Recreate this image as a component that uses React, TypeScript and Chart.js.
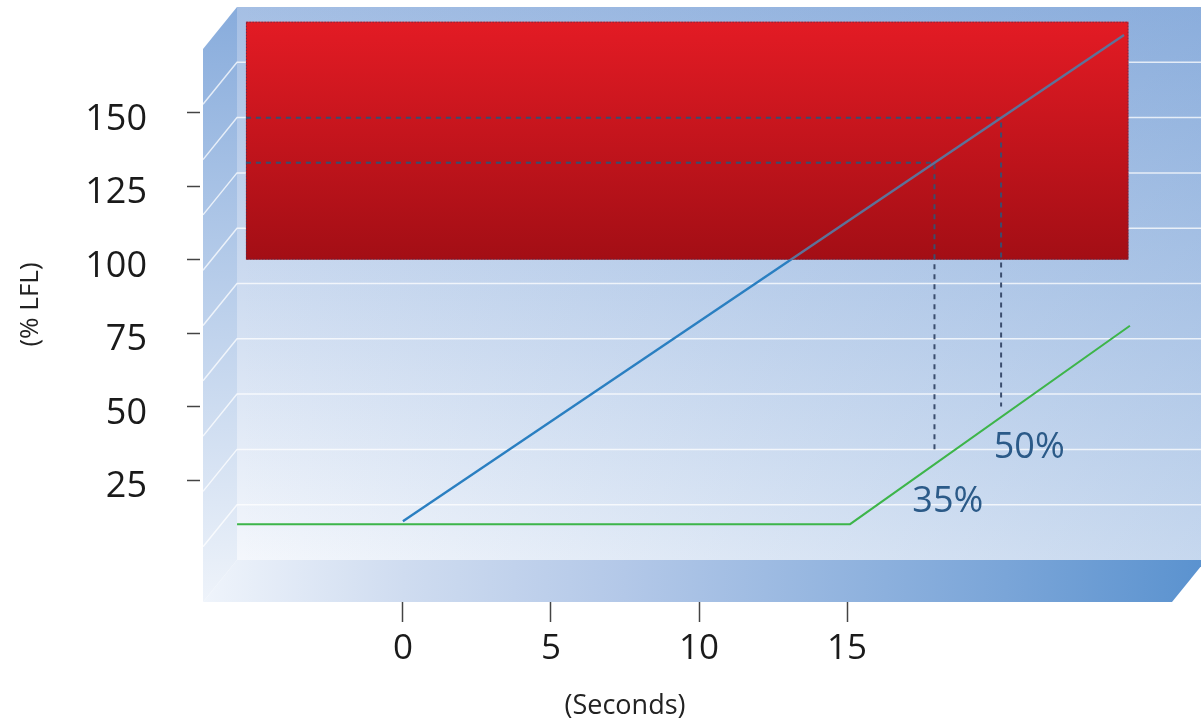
import React, { useEffect, useRef } from "react";
import { Chart, registerables } from "chart.js";

Chart.register(...registerables);

// ---- data ----
const xTickValues = [0, 5, 10, 15];
const yTickValues = [25, 50, 75, 100, 125, 150];

// blue curve: gas concentration
const blueX = [0, 24.35];
const blueY = [11, 176.5];

// green curve
const greenX = [-5.6, 15.1, 24.55];
const greenY = [10, 10, 77.5];

// red danger zone (x range, y range)
const zoneX = [-5.3, 24.5];
const zoneY = [100, 181];

// dashed guide lines
const guide35X = [-5.3, 17.95, 17.95];
const guide35Y = [133, 133, 35];
const guide50X = [-5.3, 20.2, 20.2];
const guide50Y = [148.3, 148.3, 50];

// annotation labels
const noteText = ["35%", "50%"];
const noteX = [18.4, 21.15];
const noteY = [17.5, 35.9];

const xTitle = "(Seconds)";
const yTitle = "(% LFL)";

const FONT = "'Open Sans', 'Noto Sans', sans-serif";

const pts = (xs: number[], ys: number[]) => xs.map((x, i) => ({ x, y: ys[i] }));

const boxPlugin = {
  id: "box3d",
  beforeDatasetsDraw(chart: any) {
    const { ctx, chartArea } = chart;
    const L = chartArea.left, T = chartArea.top, R = chartArea.right + 5, B = chartArea.bottom;
    const dx = 34, dy = 42;
    ctx.save();
    // back wall
    const bwL = L + dx, bwB = B - dy;
    let g = ctx.createLinearGradient(0, T, 0, bwB);
    g.addColorStop(0, "#a5bfe4");
    g.addColorStop(1, "#f4f7fc");
    ctx.fillStyle = g;
    ctx.fillRect(bwL, T, R - bwL, bwB - T);
    g = ctx.createLinearGradient(bwL, 0, R, 0);
    g.addColorStop(0, "rgba(60,121,197,0)");
    g.addColorStop(1, "rgba(60,121,197,0.25)");
    ctx.fillStyle = g;
    ctx.fillRect(bwL, T, R - bwL, bwB - T);
    // left wall
    g = ctx.createLinearGradient(0, T, 0, B);
    g.addColorStop(0, "#88acdc");
    g.addColorStop(1, "#eef3fa");
    ctx.fillStyle = g;
    ctx.beginPath();
    ctx.moveTo(L, T + dy);
    ctx.lineTo(bwL, T);
    ctx.lineTo(bwL, bwB);
    ctx.lineTo(L, B);
    ctx.closePath();
    ctx.fill();
    // grid lines on walls
    ctx.strokeStyle = "rgba(255,255,255,0.75)";
    ctx.lineWidth = 1.5;
    const n = 10;
    for (let k = 1; k < n; k++) {
      const y = T + ((bwB - T) * k) / n;
      ctx.beginPath();
      ctx.moveTo(L, y + dy);
      ctx.lineTo(bwL, y);
      ctx.lineTo(R, y);
      ctx.stroke();
    }
    // floor
    g = ctx.createLinearGradient(L, 0, R, 0);
    g.addColorStop(0, "#eff4fb");
    g.addColorStop(0.2, "#cfdcf0");
    g.addColorStop(0.42, "#b3c8e8");
    g.addColorStop(0.8, "#7aa5d8");
    g.addColorStop(1, "#5a92cf");
    ctx.fillStyle = g;
    ctx.beginPath();
    ctx.moveTo(bwL, bwB);
    ctx.lineTo(R, bwB);
    ctx.lineTo(R - dx, B);
    ctx.lineTo(L, B);
    ctx.closePath();
    ctx.fill();

    // red zone
    const xs = chart.scales.x, ys = chart.scales.y;
    const zx0 = xs.getPixelForValue(zoneX[0]);
    const zx1 = xs.getPixelForValue(zoneX[1]);
    const zy0 = ys.getPixelForValue(zoneY[1]);
    const zy1 = ys.getPixelForValue(zoneY[0]);
    g = ctx.createLinearGradient(0, zy0, 0, zy1);
    g.addColorStop(0, "#e31b24");
    g.addColorStop(1, "#a30e15");
    ctx.fillStyle = g;
    ctx.fillRect(zx0, zy0, zx1 - zx0, zy1 - zy0);
    ctx.strokeStyle = "rgba(80,50,80,0.7)";
    ctx.lineWidth = 1;
    ctx.setLineDash([1.5, 1.5]);
    ctx.strokeRect(zx0 + 0.5, zy0 + 0.5, zx1 - zx0 - 1, zy1 - zy0 - 1);
    ctx.restore();
  },
  afterDatasetsDraw(chart: any) {
    const { ctx } = chart;
    const xs = chart.scales.x, ys = chart.scales.y;
    ctx.save();
    ctx.fillStyle = "#2b5a88";
    ctx.font = `36px ${FONT}`;
    ctx.textAlign = "center";
    ctx.textBaseline = "middle";
    noteText.forEach((t, i) => {
      ctx.fillText(t, xs.getPixelForValue(noteX[i]), ys.getPixelForValue(noteY[i]));
    });
    // x axis title centered under the tick range
    const cx = (xs.getPixelForValue(xTickValues[0]) + xs.getPixelForValue(xTickValues[xTickValues.length - 1])) / 2;
    ctx.fillStyle = "#222";
    ctx.font = `27px ${FONT}`;
    ctx.fillText(xTitle, cx, xs.bottom - 21);
    ctx.restore();
  },
};

export default function App() {
  const ref = useRef<HTMLCanvasElement>(null);
  useEffect(() => {
    document.body.style.margin = "0";
    const blue = "#2a7fc1";
    const blueOnRed = "#5d7299";
    const chart = new Chart(ref.current!, {
      type: "line",
      data: {
        datasets: [
          {
            data: pts(blueX, blueY),
            borderWidth: 2.4,
            pointRadius: 0,
            borderColor: (c: any) => {
              const ch = c.chart;
              const area = ch.chartArea;
              if (!area || !ch.scales.y) return blue;
              const yp = ch.scales.y.getPixelForValue(zoneY[0]);
              const t = Math.min(1, Math.max(0, (yp - area.top) / (area.bottom - area.top)));
              const g = ch.ctx.createLinearGradient(0, area.top, 0, area.bottom);
              g.addColorStop(0, blueOnRed);
              g.addColorStop(t, blueOnRed);
              g.addColorStop(t, blue);
              g.addColorStop(1, blue);
              return g;
            },
          },
          { data: pts(greenX, greenY), borderColor: "#3db54a", borderWidth: 2, pointRadius: 0 },
          { data: pts(guide35X, guide35Y), borderColor: "#3b4d6e", borderWidth: 2, borderDash: [5, 5], pointRadius: 0 },
          { data: pts(guide50X, guide50Y), borderColor: "#3b4d6e", borderWidth: 2, borderDash: [5, 5], pointRadius: 0 },
        ],
      },
      options: {
        responsive: false,
        animation: false,
        layout: { padding: { top: 7, right: 0, left: 0, bottom: 0 } },
        plugins: { legend: { display: false }, tooltip: { enabled: false } },
        scales: {
          x: {
            type: "linear",
            min: -6.75,
            max: 26.95,
            afterBuildTicks: (s: any) => {
              s.ticks = xTickValues.map((v) => ({ value: v }));
            },
            afterFit: (s: any) => {
              s.height = 125;
              s.paddingLeft = 0;
              s.paddingRight = 0;
            },
            border: { display: false },
            grid: { drawOnChartArea: false, drawTicks: true, tickLength: 20, tickColor: "#444", tickWidth: 1.5 },
            ticks: { color: "#1a1a1a", font: { family: FONT, size: 35 }, padding: 6, maxRotation: 0, autoSkip: false },
          },
          y: {
            type: "linear",
            min: -16.5,
            max: 186,
            afterBuildTicks: (s: any) => {
              s.ticks = yTickValues.map((v) => ({ value: v }));
            },
            afterFit: (s: any) => {
              s.width = 203;
              s.paddingTop = 0;
              s.paddingBottom = 0;
            },
            border: { display: false },
            grid: { drawOnChartArea: false, drawTicks: true, tickLength: 16, tickColor: "#444", tickWidth: 1.5, tickBorderDash: [13, 20] },
            ticks: { color: "#1a1a1a", font: { family: FONT, size: 36 }, padding: 40, labelOffset: 7, autoSkip: false },
            title: { display: true, text: yTitle, color: "#222", font: { family: FONT, size: 26 }, padding: { top: 15, bottom: 0 } },
          },
        },
      },
      plugins: [boxPlugin],
    } as any);
    return () => chart.destroy();
  }, []);
  return (
    <div style={{ width: 1201, height: 727, position: "relative" }}>
      <canvas ref={ref} width={1201} height={727} />
    </div>
  );
}
